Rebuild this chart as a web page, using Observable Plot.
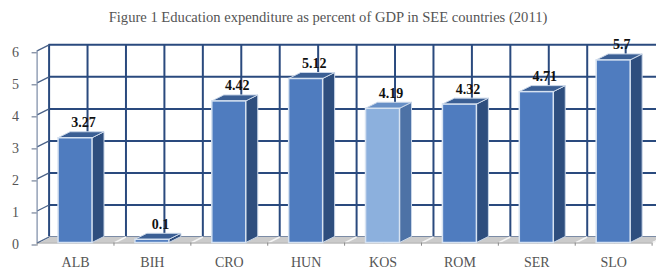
<!DOCTYPE html>
<html>
<head>
<meta charset="utf-8">
<script src="https://cdn.jsdelivr.net/npm/d3@7"></script>
<script src="https://cdn.jsdelivr.net/npm/@observablehq/plot@0.6"></script>
<style>
  html, body { margin: 0; padding: 0; background: #fff; }
  #title { height: 34px; line-height: 34px; text-align: center; font-family: "Liberation Serif", serif; font-size: 14.6px; color: #555; white-space: nowrap; }
  #chart svg { display: block; }
</style>
</head>
<body>
<div id="title"></div>
<div id="chart"></div>
<script>
const title = "Figure 1 Education expenditure as percent of GDP in SEE countries (2011)";
const countries = ["ALB", "BIH", "CRO", "HUN", "KOS", "ROM", "SER", "SLO"];
const values = [3.27, 0.1, 4.42, 5.12, 4.19, 4.32, 4.71, 5.7];
const valueLabels = ["3.27", "0.1", "4.42", "5.12", "4.19", "4.32", "4.71", "5.7"];
const highlighted = ["KOS"];
const yTicks = [0, 1, 2, 3, 4, 5, 6];

document.getElementById("title").textContent = title;

// pseudo-3D depth, in scale units
const DX = 0.156, DY = 0.187, HW = 0.221;

const bars = countries.map((c, i) => ({country: c, i, value: values[i], label: valueLabels[i], hi: highlighted.includes(c)}));
const gridX = d3.range(0, 17).map(k => k / 2 - 0.5);
const bandEdges = d3.range(0, 9).map(k => k - 0.5);

const sidePts = bars.flatMap(b => [
  {b, x: b.i + HW, y1: 0, y2: b.value},
  {b, x: b.i + HW + DX, y1: DY, y2: b.value + DY}
]);
const topPts = bars.flatMap(b => [
  {b, y: b.value, x1: b.i - HW, x2: b.i + HW},
  {b, y: b.value + DY, x1: b.i - HW + DX, x2: b.i + HW + DX}
]);
const floorPts = [
  {y: 0, x1: -0.5, x2: 7.5},
  {y: DY, x1: -0.5 + DX, x2: 7.5 + DX}
];

const gridColor = "#2a4a7e";

const chart = Plot.plot({
  width: 656,
  height: 239,
  marginLeft: 36.6,
  marginRight: 4.4,
  marginTop: 16.3,
  marginBottom: 30.5,
  x: {domain: [-0.5, 7.5], axis: null},
  y: {domain: [0, 6], axis: null},
  style: {fontFamily: "Liberation Serif, serif", background: "#fff"},
  marks: [
    // back wall grid
    Plot.ruleY(yTicks, {y: d => d + DY, x1: -0.5 + DX, x2: 8, stroke: gridColor, strokeWidth: 2}),
    Plot.ruleX(gridX, {x: d => d + DX, y1: DY, y2: 6 + DY, stroke: gridColor, strokeWidth: 2}),
    // floor
    Plot.areaX(floorPts, {y: "y", x1: "x1", x2: "x2", fill: "#cbcbcb"}),
    Plot.link(gridX, {x1: d => d, y1: 0, x2: d => d + DX, y2: DY, stroke: "#f4f4f4", strokeWidth: 1.6}),
    Plot.ruleY([0], {x1: -0.5, x2: 7.5, stroke: "#9a9a9a", strokeWidth: 1}),
    Plot.ruleX(bandEdges, {y1: 0, y2: -0.1, stroke: "#8a8a8a", strokeWidth: 1}),
    // left wall
    Plot.link(yTicks, {x1: -0.5, y1: d => d, x2: -0.5 + DX, y2: d => d + DY, stroke: "#4a6288", strokeWidth: 1.3}),
    Plot.ruleX([-0.5], {y1: 0, y2: 6, stroke: "#7a8aa5", strokeWidth: 1.2}),
    Plot.axisY(yTicks, {tickSize: 5, tickPadding: 13, fontSize: 14, fill: "#555", stroke: "#5a6a85", dy: 2}),
    // bars: side faces, top faces, front faces
    Plot.areaY(sidePts, {x: "x", y1: "y1", y2: "y2", z: d => d.b.country, fill: d => d.b.hi ? "#4d72a6" : "#2e4e7e", stroke: "#c9d6e8", strokeWidth: 1}),
    Plot.areaX(topPts, {y: "y", x1: "x1", x2: "x2", z: d => d.b.country, fill: d => d.b.hi ? "#6890c6" : "#3b5f94", stroke: "#c9d6e8", strokeWidth: 1}),
    Plot.rect(bars, {x1: d => d.i - HW, x2: d => d.i + HW, y1: 0, y2: "value", fill: d => d.hi ? "#8cb0dd" : "#4f7cbf", stroke: "#d6e2f1", strokeWidth: 1.5}),
    // value labels
    Plot.text(bars, {x: d => d.i + DX / 2, y: d => d.value + DY, text: "label", dx: 2, dy: -9.5, fontSize: 14, fontWeight: "bold", fill: "#111"}),
    // category labels
    Plot.text(bars, {x: "i", y: 0, text: "country", dy: 19.5, fontSize: 14, fill: "#555", letterSpacing: "1px"})
  ]
});
document.getElementById("chart").appendChild(chart);
</script>
</body>
</html>
